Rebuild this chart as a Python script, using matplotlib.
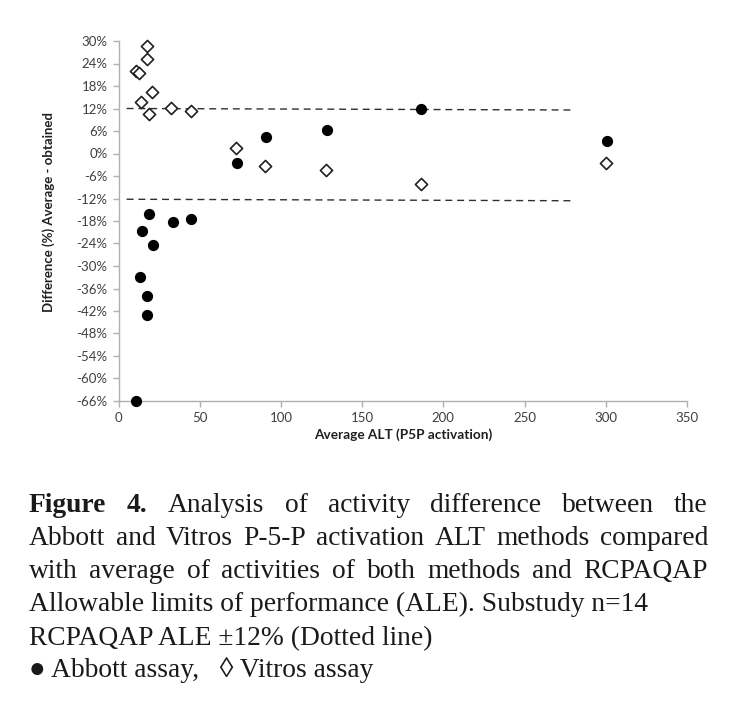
import matplotlib.pyplot as plt
import numpy as np
from matplotlib.ticker import FuncFormatter

# Abbott assay (filled circles)
abbott_x = [18.9, 33.5, 44.6, 14.2, 21.0, 13.0, 17.6, 17.6, 10.9, 72.8, 90.6, 128.2, 186.2, 300.6]
abbott_y = [-16.2, -18.3, -17.4, -20.7, -24.4, -32.9, -37.9, -43.0, -65.9, -2.5, 4.5, 6.4, 11.8, 3.4]

# Vitros assay (open diamonds)
vitros_x = [17.6, 17.6, 10.7, 12.8, 20.7, 13.6, 18.7, 32.6, 44.6, 72.6, 90.4, 128.0, 186.2, 300.4]
vitros_y = [28.7, 25.2, 21.9, 21.6, 16.3, 13.8, 10.5, 12.2, 11.3, 1.5, -3.2, -4.4, -8.0, -2.4]

# RCPAQAP ALE +/-12% lines
ale_x = [5, 280]
ale_upper = [12.0, 11.6]
ale_lower = [-12.2, -12.6]

x_ticks = np.arange(0, 351, 50)
y_ticks = np.arange(-66, 31, 6)

caption = [
    (["Figure", "4.", "Analysis", "of", "activity", "difference", "between", "the"], True),
    (["Abbott", "and", "Vitros", "P-5-P", "activation", "ALT", "methods", "compared"], True),
    (["with", "average", "of", "activities", "of", "both", "methods", "and", "RCPAQAP"], True),
    (["Allowable limits of performance (ALE). Substudy n=14"], False),
    (["RCPAQAP ALE \u00b112% (Dotted line)"], False),
    (["\u25cf Abbott assay,   \u25ca Vitros assay"], False),
]
bold_words = {"Figure", "4."}

W, H = 741, 701
fig = plt.figure(figsize=(W / 100, H / 100), dpi=100)
ax = fig.add_axes([118.5 / W, 1 - 401 / H, (687 - 118.5) / W, (401 - 41) / H])

sans = ["Lato", "DejaVu Sans"]
serif = ["Liberation Serif", "DejaVu Serif"]

ax.plot(ale_x, ale_upper, ls=(0, (5, 3.5)), color="#303030", lw=1.0, zorder=1)
ax.plot(ale_x, ale_lower, ls=(0, (5, 3.5)), color="#303030", lw=1.0, zorder=1)
ax.scatter(abbott_x, abbott_y, s=50, marker="o", color="black", zorder=3, clip_on=False)
ax.scatter(vitros_x, vitros_y, s=38, marker="D", facecolor="white",
           edgecolor="#202020", linewidth=1.2, zorder=3, clip_on=False)

ax.set_xlim(0, 350)
ax.set_ylim(-66, 30)
ax.set_xticks(x_ticks)
ax.set_yticks(y_ticks)
ax.yaxis.set_major_formatter(FuncFormatter(lambda v, p: f"{v:.0f}%"))
for s in ["top", "right"]:
    ax.spines[s].set_visible(False)
for s in ["left", "bottom"]:
    ax.spines[s].set_color("#b0b0b0")
    ax.spines[s].set_linewidth(1.0)
ax.tick_params(axis="both", direction="out", length=4, width=1.0, color="#b0b0b0",
               labelcolor="#404040", labelsize=9.5, pad=4)
for lab in ax.get_xticklabels() + ax.get_yticklabels():
    lab.set_family(sans)

ax.set_xlabel("Average ALT (P5P activation)", family=sans, fontweight="bold",
              fontsize=9.8, color="#202020", labelpad=3)
fig.text(49 / W, 1 - 212 / H, "Difference (%) Average - obtained", rotation=90,
         family=sans, fontweight="bold", fontsize=9.5, color="#202020",
         ha="center", va="center")

# caption, justified like the journal layout
renderer = fig.canvas.get_renderer()
baselines = [512, 545, 578, 611, 645, 677]
left_px, right_px = 29, 708
fs = 19.8
for (words, justify), base in zip(caption, baselines):
    texts = [fig.text(0, 1 - base / H, w, family=serif, fontsize=fs, color="#1a1a1a",
                      fontweight="bold" if w in bold_words else "normal",
                      va="baseline", ha="left") for w in words]
    widths = [t.get_window_extent(renderer).width for t in texts]
    if justify and len(words) > 1:
        gap = (right_px - left_px - sum(widths)) / (len(words) - 1)
    else:
        gap = fs * 0.25 * 100 / 72
    x = left_px
    for t, w in zip(texts, widths):
        t.set_x(x / W)
        x += w + gap

fig.savefig("out.png", dpi=100)
